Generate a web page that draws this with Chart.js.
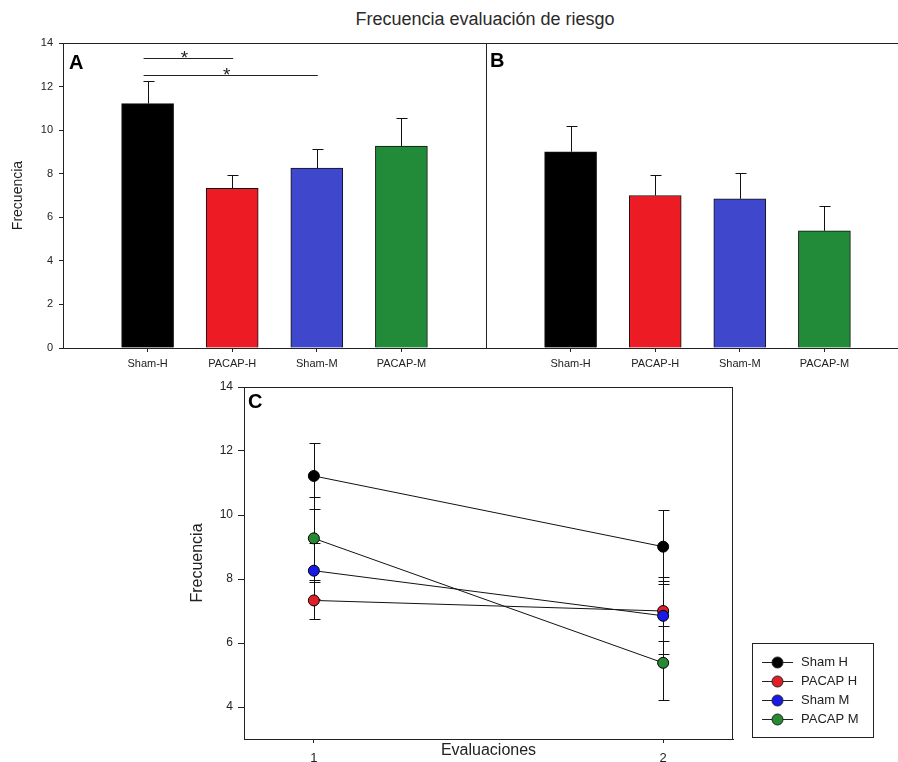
<!DOCTYPE html>
<html>
<head>
<meta charset="utf-8">
<script src="https://cdn.jsdelivr.net/npm/chart.js@4/dist/chart.umd.min.js"></script>
<style>
  body { margin: 0; background: #fff; }
  #wrap { position: relative; width: 898px; height: 762px; overflow: hidden; background: #fff; }
  canvas { position: absolute; }
  #title { position: absolute; left: 285px; width: 400px; top: 9px; text-align: center;
           font: 18px "Liberation Sans", Arial, sans-serif; color: #2a2a2a; }
</style>
</head>
<body>
<div id="wrap">
  <div id="title">Frecuencia evaluación de riesgo</div>
  <canvas id="chartA" width="490" height="372" style="left:0;top:0"></canvas>
  <canvas id="chartB" width="418" height="372" style="left:480px;top:0"></canvas>
  <canvas id="chartC" width="718" height="390" style="left:180px;top:372px"></canvas>
</div>
<script>
// groups and values
const groups = ['Sham-H', 'PACAP-H', 'Sham-M', 'PACAP-M'];
const barColors = ['#000000', '#ed1c24', '#3f48cc', '#228b3a'];
const evalA = [11.22, 7.33, 8.26, 9.27];
const errA = [1.03, 0.59, 0.88, 1.30];
const evalB = [9.01, 7.00, 6.85, 5.38];
const errB = [1.16, 0.93, 1.20, 1.16];

const lineLabels = ['Sham H', 'PACAP H', 'Sham M', 'PACAP M'];
const lineColors = ['#000000', '#e11f26', '#1a1ae6', '#268a33'];
const evaluations = [1, 2];

const barTicks = [0, 2, 4, 6, 8, 10, 12, 14];
const lineTicks = [4, 6, 8, 10, 12, 14];

// significance brackets in panel A (group index from/to, height)
const sigBars = [
    { from: 0, to: 1, y: 13.3 },
    { from: 0, to: 2, y: 12.55 }
];

Chart.defaults.font.family = '"Liberation Sans", Arial, sans-serif';
Chart.defaults.color = '#222';
Chart.defaults.animation = false;

const axisColor = '#222';

// frame lines + panel letter
const panelDecor = {
    id: 'panelDecor',
    afterDraw(chart, args, opts) {
        const { ctx, chartArea: a } = chart;
        ctx.save();
        ctx.strokeStyle = axisColor;
        ctx.lineWidth = 1;
        ctx.beginPath();
        ctx.moveTo(a.left, a.top + 0.5);
        ctx.lineTo(a.right, a.top + 0.5);
        if (opts.box) {
            ctx.moveTo(a.right - 0.5, a.top);
            ctx.lineTo(a.right - 0.5, a.bottom);
        }
        ctx.stroke();
        ctx.font = 'bold 20px "Liberation Sans", Arial, sans-serif';
        ctx.fillStyle = '#000';
        ctx.textBaseline = 'middle';
        ctx.fillText(opts.letter, a.left + opts.dx, a.top + opts.dy);
        ctx.restore();
    }
};

// error bars, drawn from each dataset's "errors" list
const errorBars = {
    id: 'errorBars',
    draw(chart, both) {
        const { ctx, scales: { x, y } } = chart;
        ctx.save();
        ctx.strokeStyle = '#111';
        ctx.lineWidth = 1;
        chart.data.datasets.forEach(ds => {
            ds.data.forEach((pt, i) => {
                const e = ds.errors[i];
                const px = Math.round(x.getPixelForValue(pt.x)) + 0.5;
                const hi = Math.round(y.getPixelForValue(pt.y + e)) + 0.5;
                const lo = both ? Math.round(y.getPixelForValue(pt.y - e)) + 0.5
                                : y.getPixelForValue(pt.y);
                ctx.beginPath();
                ctx.moveTo(px, lo);
                ctx.lineTo(px, hi);
                ctx.moveTo(px - 5, hi);
                ctx.lineTo(px + 6, hi);
                if (both) {
                    ctx.moveTo(px - 5, lo);
                    ctx.lineTo(px + 6, lo);
                }
                ctx.stroke();
            });
        });
        ctx.restore();
    },
    beforeDatasetsDraw(chart, args, opts) {
        if (opts.both) this.draw(chart, true);
    },
    afterDatasetsDraw(chart, args, opts) {
        if (!opts.both) this.draw(chart, false);
    }
};

const sigPlugin = {
    id: 'sigPlugin',
    afterDraw(chart) {
        const { ctx, scales: { x, y } } = chart;
        ctx.save();
        ctx.strokeStyle = '#222';
        ctx.fillStyle = '#222';
        ctx.lineWidth = 1;
        ctx.font = '19px "Liberation Sans", Arial, sans-serif';
        ctx.textAlign = 'center';
        ctx.textBaseline = 'alphabetic';
        sigBars.forEach(s => {
            const x1 = x.getPixelForValue(s.from + 1) - 4;
            const x2 = x.getPixelForValue(s.to + 1) + 1;
            const py = Math.round(y.getPixelForValue(s.y)) + 0.5;
            ctx.beginPath();
            ctx.moveTo(x1, py);
            ctx.lineTo(x2, py);
            ctx.stroke();
            ctx.fillText('*', (x1 + x2) / 2 - 4, py + 5);
        });
        ctx.restore();
    }
};

function barChart(id, values, errors, isFirst) {
    const ctx = document.getElementById(id).getContext('2d');
    return new Chart(ctx, {
        type: 'bar',
        data: {
            datasets: [{
                data: groups.map((g, i) => ({ x: i + 1, y: values[i] })),
                errors: errors,
                backgroundColor: barColors,
                borderColor: '#111',
                borderWidth: 1,
                barThickness: 52
            }]
        },
        options: {
            responsive: false,
            events: [],
            layout: { padding: { top: 43, right: isFirst ? 4 : 0, left: 0, bottom: 0 } },
            scales: {
                x: {
                    type: 'linear',
                    min: 0,
                    max: isFirst ? 5 : 4.87,
                    offset: false,
                    afterBuildTicks: s => { s.ticks = groups.map((g, i) => ({ value: i + 1 })); },
                    ticks: {
                        callback: v => groups[v - 1],
                        autoSkip: false,
                        maxRotation: 0,
                        font: { size: 11 },
                        padding: 5
                    },
                    grid: { drawOnChartArea: false, tickLength: 4, color: axisColor, offset: false },
                    border: { color: axisColor },
                    afterFit: s => { s.height = 24; }
                },
                y: {
                    min: 0,
                    max: 14,
                    afterBuildTicks: s => { s.ticks = barTicks.map(v => ({ value: v })); },
                    ticks: { display: isFirst, font: { size: 11 }, padding: 6 },
                    grid: { drawOnChartArea: false, drawTicks: isFirst, tickLength: 4, color: axisColor },
                    border: { color: axisColor },
                    title: {
                        display: isFirst,
                        text: 'Frecuencia',
                        font: { size: 14 },
                        padding: { top: 10, bottom: 0 }
                    },
                    afterFit: s => { s.width = isFirst ? 63 : 6; }
                }
            },
            plugins: {
                legend: { display: false },
                tooltip: { enabled: false },
                panelDecor: { letter: isFirst ? 'A' : 'B', dx: isFirst ? 6 : 4, dy: isFirst ? 20 : 18 },
                errorBars: { both: false }
            }
        },
        plugins: isFirst ? [panelDecor, errorBars, sigPlugin] : [panelDecor, errorBars]
    });
}

barChart('chartA', evalA, errA, true);
barChart('chartB', evalB, errB, false);

// legend with a box round it, like the original
const boxLegend = {
    id: 'boxLegend',
    afterDraw(chart) {
        const { ctx, chartArea: a } = chart;
        const left = Math.round(a.right) + 19, top = Math.round(a.bottom) - 96;
        ctx.save();
        ctx.strokeStyle = '#222';
        ctx.lineWidth = 1;
        ctx.strokeRect(left + 0.5, top + 0.5, 121, 94);
        ctx.font = '13px "Liberation Sans", Arial, sans-serif';
        ctx.textBaseline = 'middle';
        chart.data.datasets.forEach((ds, i) => {
            const yy = top + 19.5 + i * 19;
            ctx.beginPath();
            ctx.moveTo(left + 10, yy);
            ctx.lineTo(left + 41, yy);
            ctx.stroke();
            ctx.beginPath();
            ctx.arc(left + 25.5, yy, 5.5, 0, Math.PI * 2);
            ctx.fillStyle = ds.pointBackgroundColor;
            ctx.fill();
            ctx.stroke();
            ctx.fillStyle = '#222';
            ctx.fillText(ds.label, left + 49, yy);
        });
        ctx.restore();
    }
};

const ctxC = document.getElementById('chartC').getContext('2d');
new Chart(ctxC, {
    type: 'line',
    data: {
        datasets: lineLabels.map((lab, i) => ({
            label: lab,
            data: evaluations.map((e, j) => ({ x: e, y: [evalA, evalB][j][i] })),
            errors: [errA[i], errB[i]],
            borderColor: '#111',
            borderWidth: 1,
            tension: 0,
            pointRadius: 5.5,
            pointBackgroundColor: lineColors[i],
            pointBorderColor: '#000',
            pointBorderWidth: 1,
            order: lineLabels.length - i
        }))
    },
    options: {
        responsive: false,
        events: [],
        layout: { padding: { top: 15, right: 165, left: 0, bottom: 0 } },
        scales: {
            x: {
                type: 'linear',
                min: 0.8,
                max: 2.2,
                afterBuildTicks: s => { s.ticks = evaluations.map(v => ({ value: v })); },
                ticks: { font: { size: 13 }, padding: 8 },
                grid: { drawOnChartArea: false, tickLength: 4, color: axisColor },
                border: { color: axisColor },
                title: {
                    display: true,
                    text: 'Evaluaciones',
                    font: { size: 16 },
                    padding: { top: 0, bottom: 2 }
                },
                afterFit: s => { s.height = 23; }
            },
            y: {
                min: 3,
                max: 14,
                afterBuildTicks: s => { s.ticks = lineTicks.map(v => ({ value: v })); },
                ticks: { font: { size: 12 }, padding: 5 },
                grid: { drawOnChartArea: false, tickLength: 6, color: axisColor },
                border: { color: axisColor },
                title: {
                    display: true,
                    text: 'Frecuencia',
                    font: { size: 16 },
                    padding: { top: 8, bottom: 0 }
                },
                afterFit: s => { s.width = 64; }
            }
        },
        plugins: {
            legend: { display: false },
            tooltip: { enabled: false },
            panelDecor: { letter: 'C', dx: 4, dy: 15, box: true },
            errorBars: { both: true }
        }
    },
    plugins: [panelDecor, errorBars, boxLegend]
});
</script>
</body>
</html>
